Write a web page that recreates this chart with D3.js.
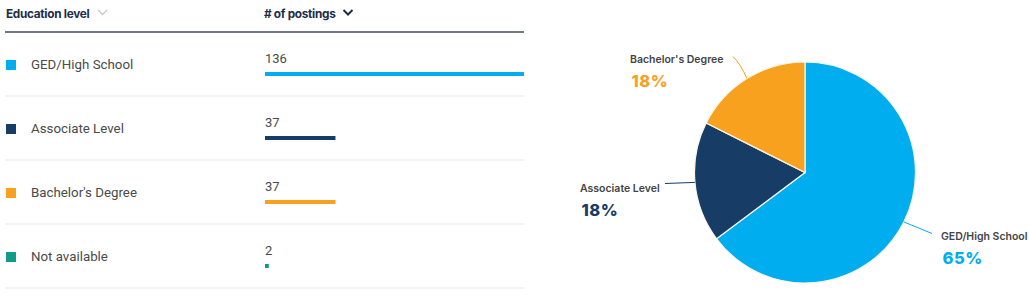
<!DOCTYPE html>
<html>
<head>
<meta charset="utf-8">
<title>Education level</title>
<script src="https://cdn.jsdelivr.net/npm/d3@7"></script>
<style>
  body { margin: 0; background: #fff; }
  svg { display: block; }
</style>
</head>
<body>
<script>

// data
var categories = ["GED/High School", "Associate Level", "Bachelor's Degree", "Not available"];
var postings = [136, 37, 37, 2];
var colors = ["#00aeef", "#173d66", "#f7a11e", "#139b8a"];

// the pie leaves out "Not available"
var pieCategories = categories.slice(0, 3);
var pieValues = postings.slice(0, 3);

var w = 1030;
var h = 297;

var svg = d3.select("body")
  .append("svg")
  .attr("width", w)
  .attr("height", h);

// ---- table on the left ----
var rowTop = 32;
var rowH = 64;
var barX = 265;
var barMax = 524;

var x = d3.scaleLinear()
  .domain([0, d3.max(postings)])
  .range([0, barMax - barX]);

// header
svg.append("text")
  .attr("x", 6).attr("y", 18)
  .attr("font-family", "Inter, 'Open Sans', sans-serif")
  .attr("font-weight", 700)
  .attr("font-size", "11.8px")
  .attr("fill", "#1d2d4a")
  .attr("letter-spacing", "-0.3px")
  .text("Education level");

svg.append("path")
  .attr("d", "M98,10 L102.5,14.5 L107,10")
  .attr("fill", "none")
  .attr("stroke", "#c4c8ce")
  .attr("stroke-width", 1.3);

svg.append("text")
  .attr("x", 264).attr("y", 18)
  .attr("font-family", "Inter, 'Open Sans', sans-serif")
  .attr("font-weight", 700)
  .attr("font-size", "11.8px")
  .attr("fill", "#1d2d4a")
  .attr("letter-spacing", "-0.3px")
  .text("# of postings");

svg.append("path")
  .attr("d", "M343.5,10 L348,14.5 L352.5,10")
  .attr("fill", "none")
  .attr("stroke", "#1d2d4a")
  .attr("stroke-width", 2);

svg.append("line")
  .attr("x1", 5).attr("x2", 524)
  .attr("y1", rowTop).attr("y2", rowTop)
  .attr("stroke", "#3f4b5d")
  .attr("stroke-width", 1.5);

var rows = svg.selectAll("g.row")
  .data(categories)
  .enter()
  .append("g")
  .attr("class", "row")
  .attr("transform", function(d, i) { return "translate(0," + (rowTop + i * rowH) + ")"; });

rows.append("rect")
  .attr("x", 6).attr("y", 28)
  .attr("width", 10).attr("height", 10)
  .attr("fill", function(d, i) { return colors[i]; });

rows.append("text")
  .attr("x", 31).attr("y", 37)
  .attr("font-family", "Roboto, 'Noto Sans', sans-serif")
  .attr("font-size", "13.3px")
  .attr("fill", "#4a4a4a")
  .text(function(d) { return d; });

rows.append("text")
  .attr("x", barX).attr("y", 30.5)
  .attr("font-family", "Roboto, 'Noto Sans', sans-serif")
  .attr("font-size", "13px")
  .attr("fill", "#4a4a4a")
  .text(function(d, i) { return postings[i]; });

rows.append("rect")
  .attr("x", barX).attr("y", 40)
  .attr("width", function(d, i) { return x(postings[i]); })
  .attr("height", 4)
  .attr("fill", function(d, i) { return colors[i]; });

rows.append("line")
  .attr("x1", 5).attr("x2", 524)
  .attr("y1", rowH).attr("y2", rowH)
  .attr("stroke", "#e6e7e9")
  .attr("stroke-width", 1);

// ---- pie on the right ----
var cx = 805, cy = 172.5, r = 110.5;
var total = d3.sum(pieValues);
var pct = d3.format(".0%");

var pie = d3.pie().sort(null).value(function(d) { return d; });
var arcs = pie(pieValues);
var arc = d3.arc().innerRadius(0).outerRadius(r);
var edge = d3.arc().innerRadius(r).outerRadius(r);

var g = svg.append("g").attr("transform", "translate(" + cx + "," + cy + ")");

g.selectAll("path")
  .data(arcs)
  .enter()
  .append("path")
  .attr("d", arc)
  .attr("fill", function(d, i) { return colors[i]; })
  .attr("stroke", "#fbf6ea")
  .attr("stroke-width", 1.2);

// label anchors relative to pie centre, leader start points
var labelPos = [[136, 67.5], [-225, 19.5], [-175, -110]];
var leaderEnd = [[127, 61], [-140, 11], [-72, -116]];

arcs.forEach(function(d, i) {
  var c = edge.centroid(d);
  var le = leaderEnd[i];
  var path = d3.path();
  path.moveTo(c[0], c[1]);
  if (i === 2) {
    path.quadraticCurveTo(c[0] - 6, c[1] - 14, le[0], le[1]);
  } else {
    path.lineTo(le[0], le[1]);
  }
  g.append("path")
    .attr("d", path.toString())
    .attr("fill", "none")
    .attr("stroke", colors[i])
    .attr("stroke-width", 1);

  g.append("text")
    .attr("x", labelPos[i][0]).attr("y", labelPos[i][1])
    .attr("font-family", "Inter, 'Open Sans', sans-serif")
    .attr("font-weight", 600)
    .attr("font-size", "10.5px")
    .attr("fill", "#444")
    .text(pieCategories[i]);

  g.append("text")
    .attr("x", labelPos[i][0] + 1.5).attr("y", labelPos[i][1] + 24)
    .attr("font-family", "Inter, 'Open Sans', sans-serif")
    .attr("font-weight", 800)
    .attr("font-size", "16.5px")
    .attr("fill", colors[i])
    .attr("letter-spacing", "0.5px")
    .text(pct(pieValues[i] / total));
});

</script>
</body>
</html>
